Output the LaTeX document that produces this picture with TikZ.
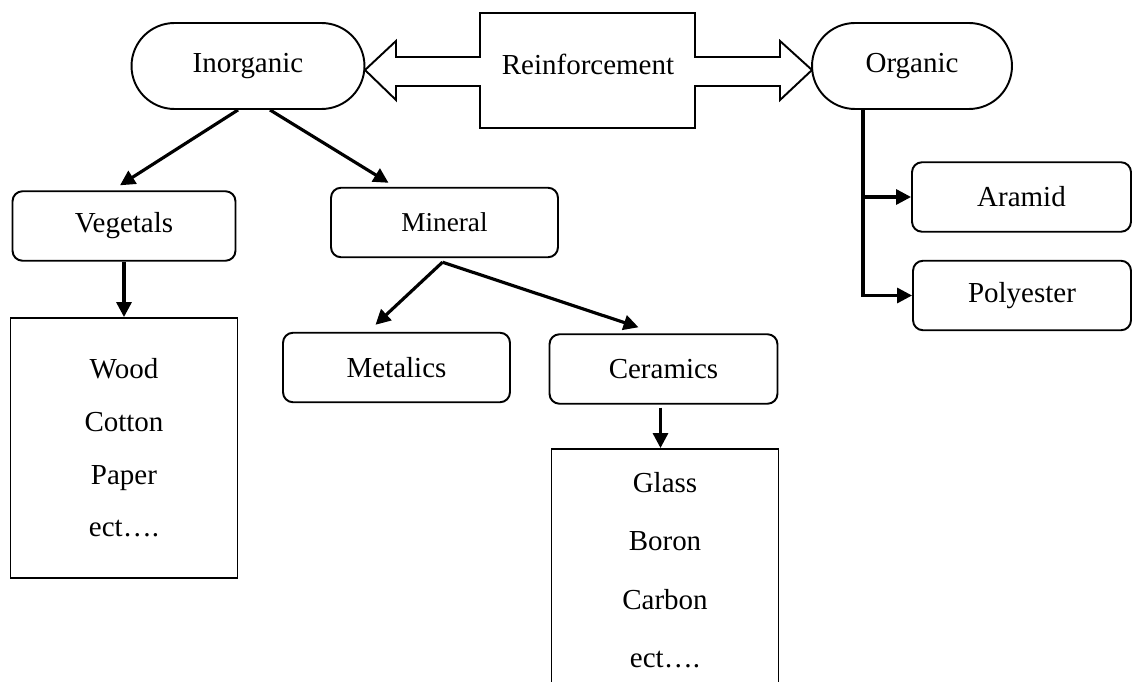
\documentclass[tikz,border=0pt]{standalone}
\usepackage{fontspec}
\setmainfont{Liberation Serif}
\usepackage{tikz}
\usetikzlibrary{positioning, arrows.meta, calc}

\begin{document}
\begin{tikzpicture}[x=0.02cm, y=-0.02cm,
        every node/.style={font=\fontsize{16.5}{20}\selectfont},
        pill/.style={draw, line width=1.1pt, rounded corners=0.86cm, minimum height=1.72cm},
        box/.style={draw, line width=1.1pt, rounded corners=0.2cm, minimum height=1.39cm},
        list/.style={draw, line width=1.1pt, align=center, minimum width=4.54cm},
        arr/.style={-{Triangle[length=8.5pt, width=8.5pt]}, line width=1.8pt}]
      \useasboundingbox (0,0) rectangle (1133,682);

      \node[pill, minimum width=4.66cm] (inorg) at (248,66) {Inorganic};
      \node[pill, minimum width=4.0cm] (org) at (912,66) {Organic};
      \draw[line width=1.1pt, line join=miter] (365,70) -- (396,41) -- (396,57) -- (480,57) -- (480,13)
        -- (695,13) -- (695,57) -- (780,57) -- (780,41) -- (812,70) -- (780,100) -- (780,86)
        -- (695,86) -- (695,128) -- (480,128) -- (480,86) -- (396,86) -- (396,100) -- cycle;
      \node (reinf) at (588,64) {Reinforcement};

      \node[box, minimum width=4.46cm] (veg) at (124,226) {Vegetals};
      \node[box, minimum width=4.54cm, font=\fontsize{15.5}{19}\selectfont] (min) at (444.5,222.5) {Mineral};
      \node[box, minimum width=4.54cm] (met) at (396.5,367.5) {Metalics};
      \node[box, minimum width=4.56cm] (cer) at (663.5,369) {Ceramics};
      \node[box, minimum width=4.38cm] (ara) at (1021.5,197) {Aramid};
      \node[box, minimum width=4.36cm] (poly) at (1022,295.5) {Polyester};

      \node[list, minimum height=5.2cm, font=\fontsize{16.5}{30}\selectfont] (wood) at (124,448)
        {Wood\\Cotton\\Paper\\ect\ldots.};
      \node[list, minimum height=4.84cm, font=\fontsize{16.5}{33.3}\selectfont] (glass) at (665,570)
        {Glass\\Boron\\Carbon\\ect\ldots.};

      \draw[arr] ($(inorg.south)+(-10,0)$) -- ($(veg.north)+(-4,-5)$);
      \draw[arr] ($(inorg.south)+(22,0)$) -- ($(min.north)+(-56,-4)$);
      \draw[arr] (veg.south) -- (wood.north);
      \draw[arr] ($(min.south)+(-2,4)$) -- ($(met.north)+(-21,-7)$);
      \draw[arr] ($(min.south)+(-2,4)$) -- ($(cer.north)+(-25,-6)$);
      \coordinate (cerdown) at ($(cer.south)+(-3,3)$);
      \draw[arr] (cerdown) -- (cerdown |- glass.north);
      \coordinate (trunk) at ($(org.south)+(-49,0)$);
      \draw[arr] (trunk) |- (ara.west);
      \draw[arr] (trunk) |- (poly.west);
    \end{tikzpicture}
\end{document}
